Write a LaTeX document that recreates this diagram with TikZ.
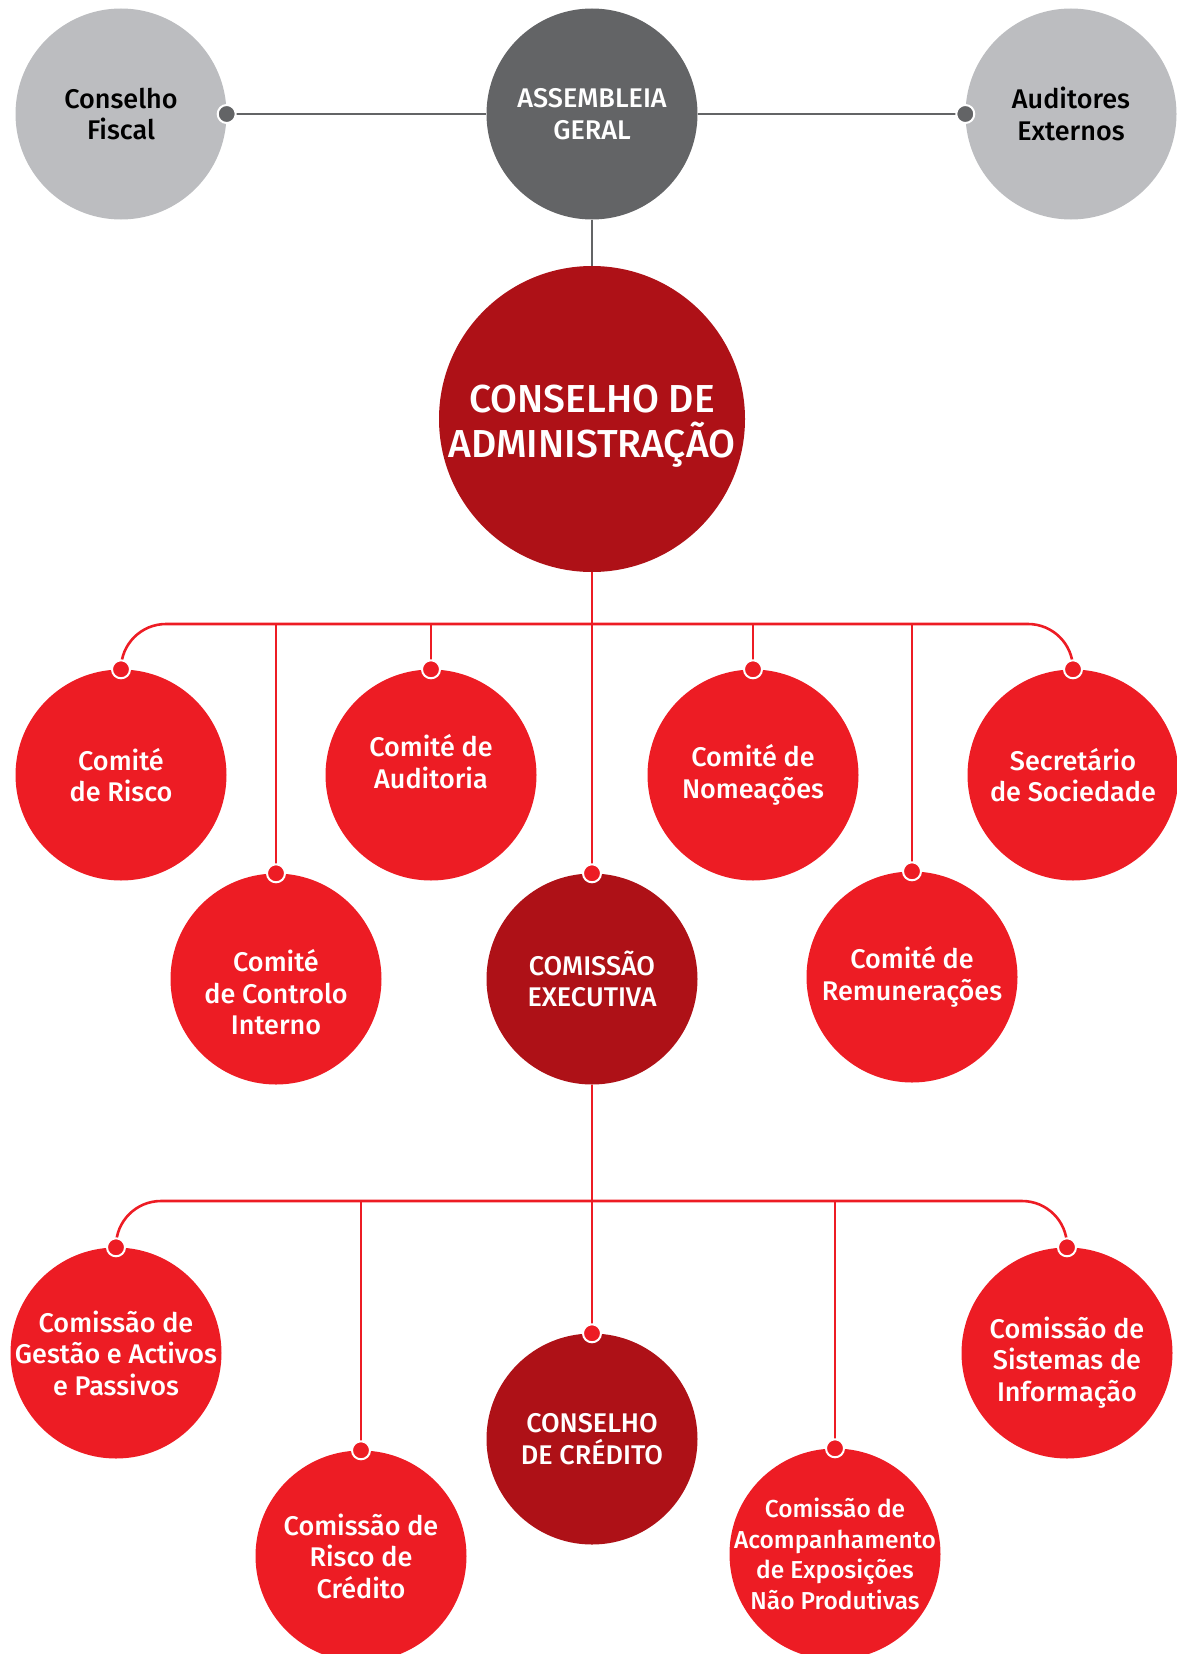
\documentclass[tikz,border=0pt]{standalone}
\usepackage{fontspec}
\setmainfont{Fira Sans}[BoldFont={Fira Sans Medium}]
\usetikzlibrary{positioning, calc}
\definecolor{sidegrey}{RGB}{188, 189, 192}
\definecolor{assemblygrey}{RGB}{99, 100, 102}
\definecolor{boardred}{RGB}{174, 17, 23}
\definecolor{comred}{RGB}{237, 28, 36}

\tikzset{
  orgnode/.style={circle, minimum size=211pt, inner sep=-20pt, align=center,
    font=\bfseries\fontsize{27}{31.5}\selectfont},
  sidebody/.style={orgnode, fill=sidegrey, text=black},
  assembly/.style={orgnode, fill=assemblygrey, text=white},
  board/.style={orgnode, fill=boardred, text=white},
  committee/.style={orgnode, fill=comred, text=white},
  redlink/.style={draw=comred, line width=2.6pt},
  greylink/.style={draw=assemblygrey, line width=2.6pt},
  joint/.style={circle, fill=#1, draw=white, line width=2pt, inner sep=0pt, minimum size=18pt}
}

\begin{document}
\begin{tikzpicture}[x=1pt, y=-1pt]
  \useasboundingbox (0,0) rectangle (1176,1654);

  % Top row
  \node[sidebody] (fiscal) at (121,114) {Conselho\\Fiscal};
  \node[assembly] (assembleia) at (592,114) {ASSEMBLEIA\\GERAL};
  \node[sidebody] (auditores) at (1071,114) {Auditores\\Externos};

  % Board
  \node[board, minimum size=306pt, font=\bfseries\fontsize{39}{45}\selectfont] (conselho) at (592,419)
    {\mbox{}\\[-3.5pt]CONSELHO DE\\ADMINISTRAÇÃO};

  % Committees of the board
  \node[committee] (risco) at (121,775) {Comité\\de Risco};
  \node[committee] (auditoria) at (431,775) {Comité de\\Auditoria\\[-4pt]\mbox{}};
  \node[committee] (nomeacoes) at (753,775) {Comité de\\Nomeações};
  \node[committee] (secretario) at (1073,775) {Secretário\\de Sociedade};
  \node[committee] (controlo) at (276,979) {\mbox{}\\[17pt]Comité\\de Controlo\\Interno};
  \node[board] (executiva) at (592,979) {COMISSÃO\\EXECUTIVA};
  \node[committee] (remuneracoes) at (912,977) {Comité de\\Remunerações};

  % Commissions of the executive
  \node[committee] (gestao) at (116,1353) {Comissão de\\Gestão e Activos\\e Passivos};
  \node[board] (credito) at (592,1439) {CONSELHO\\DE CRÉDITO};
  \node[committee] (sistemas) at (1067,1353) {\mbox{}\\[8.5pt]Comissão de\\Sistemas de\\Informação};
  \node[committee] (riscocred) at (361,1556) {Comissão de\\Risco de\\Crédito};
  \node[committee, font=\bfseries\fontsize{24.5}{30.5}\selectfont] (acomp) at (835,1554)
    {Comissão de\\Acompanhamento\\de Exposições\\Não Produtivas};

  \coordinate (bar1) at (592,624);
  \coordinate (bar2) at (592,1201);

  % Grey links
  \draw[greylink] (fiscal.east) -- (assembleia.west);
  \draw[greylink] (auditores.west) -- (assembleia.east);
  \draw[greylink] (assembleia.south) -- (conselho.north);

  % Red links, board level
  \draw[redlink] (conselho.south) -- (executiva.north);
  \draw[redlink, rounded corners=45pt] (risco.north) |- (bar1) -| (secretario.north);
  \foreach \c in {controlo, auditoria, nomeacoes, remuneracoes}
    \draw[redlink] (\c.north) -- (\c.north |- bar1);

  % Red links, executive level
  \draw[redlink] (executiva.south) -- (credito.north);
  \draw[redlink, rounded corners=45pt] (gestao.north) |- (bar2) -| (sistemas.north);
  \foreach \c in {riscocred, acomp}
    \draw[redlink] (\c.north) -- (\c.north |- bar2);

  % Joints
  \node[joint=assemblygrey] (jfiscal) at (fiscal.east) {};
  \node[joint=assemblygrey] (jauditores) at (auditores.west) {};
  \foreach \c in {risco, auditoria, nomeacoes, secretario, controlo, executiva, remuneracoes,
                  gestao, credito, sistemas, riscocred, acomp}
    \node[joint=comred] (j\c) at (\c.north) {};
\end{tikzpicture}
\end{document}
